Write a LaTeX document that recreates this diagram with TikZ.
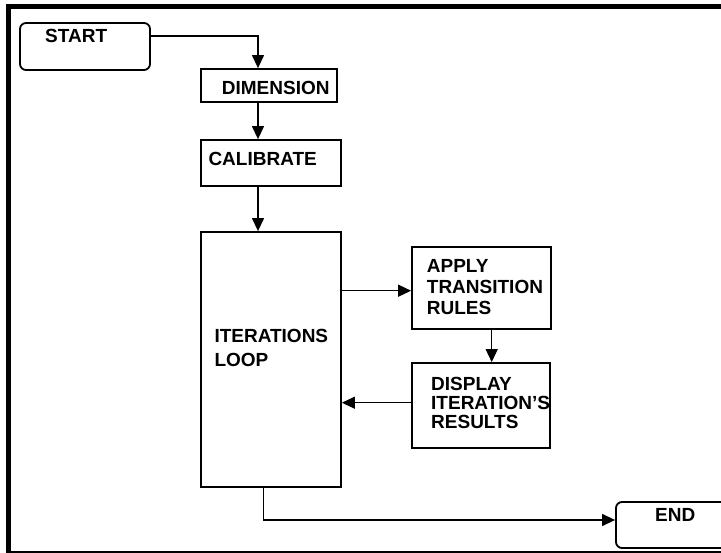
\documentclass[tikz,border=0pt]{standalone}
\usepackage{fontspec}
\setmainfont{Liberation Sans}
\usetikzlibrary{arrows.meta}
\begin{document}
\begin{tikzpicture}[x=1pt,y=-1pt,
  box/.style={draw, line width=1.8pt, inner sep=0pt, minimum width=#1},
  rbox/.style={box=#1, rounded corners=6pt},
  txt/.style={anchor=west, inner sep=0pt, align=left, font=\bfseries\fontsize{19}{21}\selectfont},
  conn/.style={line width=1.3pt, -{Triangle[length=13pt,width=12pt]}},
  plain/.style={line width=1.3pt}]
\useasboundingbox (0,0) rectangle (721,553);
\clip (0,0) rectangle (721,553);
\fill[white] (0,0) rectangle (721,553);
% frame
\draw[line width=5pt] (6,6.5) -- (721,6.5);
\draw[line width=5pt] (8.5,4) -- (8.5,553);
\draw[line width=1.7pt] (6,551.8) -- (721,551.8);
% boxes
\node[rbox=130pt, minimum height=47pt] (start) at (85,46.5) {};
\node[box=136pt, minimum height=33pt] (dim) at (269,85.5) {};
\node[box=140pt, minimum height=46pt] (cal) at (271,163) {};
\node[box=140pt, minimum height=255pt] (iter) at (271,359.5) {};
\node[box=139pt, minimum height=82pt] (apply) at (481.5,288) {};
\node[box=138pt, minimum height=85pt] (disp) at (481,405.5) {};
\node[rbox=119pt, minimum height=46pt] (end) at (675.5,525) {};
% texts
\node[txt] (tstart) at (45,36) {START};
\node[txt] (tdim) at (221.7,87.5) {DIMENSION};
\node[txt] (tcal) at (208.3,159.3) {CALIBRATE};
\node[txt, font=\bfseries\fontsize{19}{23.4}\selectfont] (titer) at (214.3,348) {ITERATIONS\\LOOP};
\node[txt, font=\bfseries\fontsize{19}{21.3}\selectfont] (tapply) at (426.7,287) {APPLY\\TRANSITION\\RULES};
\node[txt, font=\bfseries\fontsize{19}{19.3}\selectfont] (tdisp) at (431,403) {DISPLAY\\ITERATION’S\\RESULTS};
\node[txt] (tend) at (655,515) {END};
% helper coordinates
\coordinate (colA) at (258,0);
\coordinate (colB) at (491.7,0);
\coordinate (colC) at (263.3,0);
\coordinate (rowA) at (0,290.7);
\coordinate (rowB) at (0,402.7);
% connectors
\draw[conn] ([yshift=10.5pt]start.east) -| (dim.north -| colA);
\draw[conn] (dim.south -| colA) -- (cal.north -| colA);
\draw[conn] (cal.south -| colA) -- (iter.north -| colA);
\draw[conn] (iter.east |- rowA) -- (apply.west |- rowA);
\draw[conn] (apply.south -| colB) -- (disp.north -| colB);
\draw[conn] (disp.west |- rowB) -- (iter.east |- rowB);
\draw[conn] (iter.south -| colC) |- ([yshift=5pt]end.west);
\end{tikzpicture}
\end{document}
